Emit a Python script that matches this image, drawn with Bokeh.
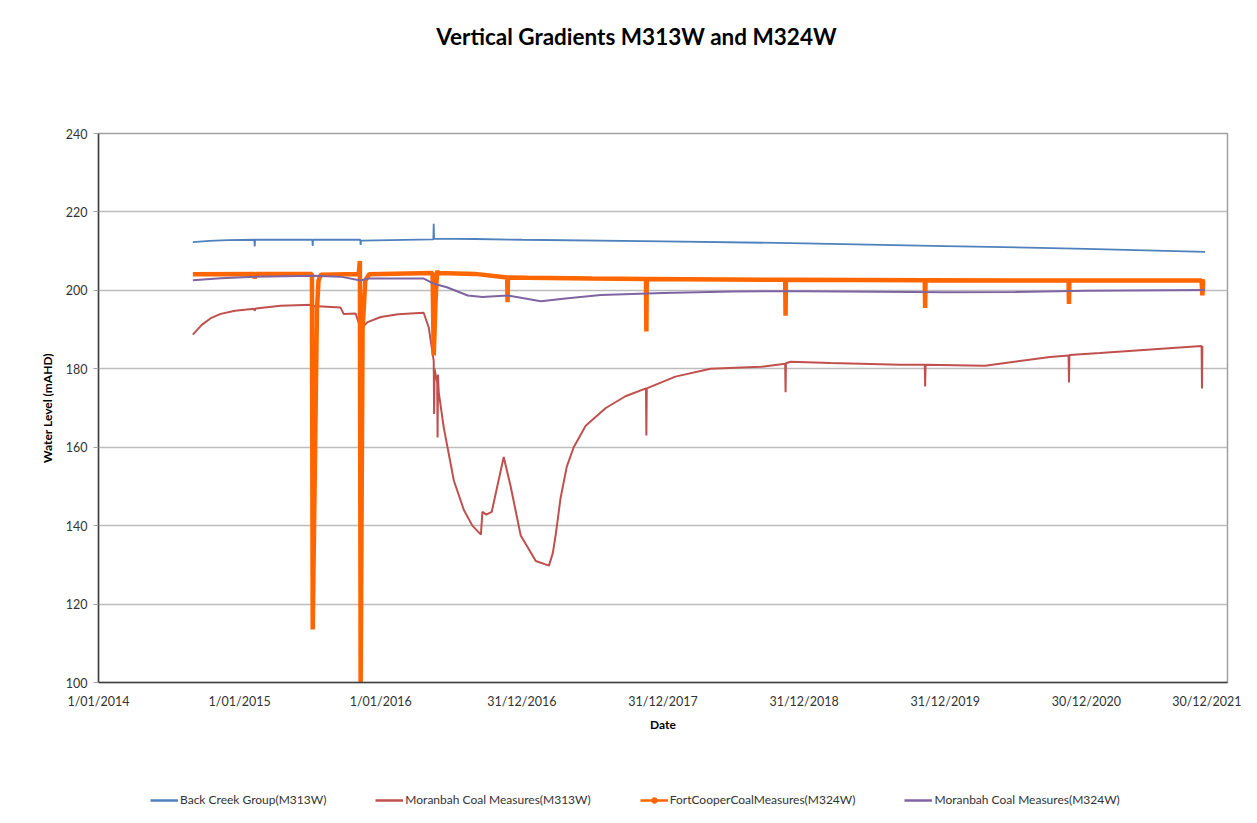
import pandas as pd
from bokeh.plotting import figure
from bokeh.layouts import column
from bokeh.models import FixedTicker, Range1d, Legend, LegendItem, ColumnDataSource, Label
from bokeh.embed import file_html
from bokeh.resources import INLINE

# ---------------- data ----------------
title_text = "Vertical Gradients M313W and M324W"
tick_dates = ["2014-01-01", "2015-01-01", "2016-01-01", "2016-12-31", "2017-12-31",
              "2018-12-31", "2019-12-31", "2020-12-30", "2021-12-30"]
tick_labels = ["1/01/2014", "1/01/2015", "1/01/2016", "31/12/2016", "31/12/2017",
               "31/12/2018", "31/12/2019", "30/12/2020", "30/12/2021"]
y_ticks = [100, 120, 140, 160, 180, 200, 220, 240]

# Back Creek Group (M313W)
bcg_dates = ["2014-09-02", "2014-10-15", "2014-12-01", "2015-02-08", "2015-02-09", "2015-02-10",
             "2015-07-08", "2015-07-09", "2015-07-10", "2015-11-09", "2015-11-10", "2015-11-11",
             "2016-05-16", "2016-05-17", "2016-05-18", "2016-09-01", "2017-01-01", "2017-12-31",
             "2018-12-31", "2019-12-31", "2020-12-30", "2021-11-02"]
bcg_level = [212.3, 212.6, 212.8, 212.9, 211.2, 212.9,
             212.9, 211.3, 212.9, 212.9, 211.6, 212.7,
             213.0, 217.0, 213.2, 213.1, 212.9, 212.5,
             212.0, 211.3, 210.6, 209.8]

# Moranbah Coal Measures (M313W)
mcm313_dates = ["2014-09-02", "2014-09-25", "2014-10-20", "2014-11-13", "2014-12-20", "2015-02-08",
                "2015-02-09", "2015-02-12", "2015-04-17", "2015-07-08", "2015-07-09", "2015-07-11",
                "2015-09-19", "2015-09-27", "2015-10-28", "2015-11-10", "2015-11-28", "2016-01-01",
                "2016-02-15", "2016-04-21", "2016-05-04", "2016-05-17", "2016-05-18", "2016-05-19",
                "2016-05-26", "2016-05-27", "2016-05-28", "2016-05-30", "2016-06-12", "2016-07-08",
                "2016-08-03", "2016-08-25", "2016-09-16", "2016-09-20", "2016-09-30", "2016-10-14",
                "2016-11-14", "2016-12-02", "2016-12-28", "2017-02-05", "2017-03-11", "2017-03-21",
                "2017-03-29", "2017-04-10", "2017-04-26", "2017-05-14", "2017-06-14", "2017-08-05",
                "2017-09-25", "2017-11-17", "2017-11-18", "2017-11-19", "2018-02-01", "2018-05-03",
                "2018-09-10", "2018-11-12", "2018-11-13", "2018-11-14", "2018-11-26", "2019-03-09",
                "2019-09-06", "2019-11-08", "2019-11-09", "2019-11-10", "2020-04-12", "2020-09-27",
                "2020-11-14", "2020-11-15", "2020-11-16", "2021-02-03", "2021-10-24", "2021-10-25",
                "2021-10-26"]
mcm313_level = [188.7, 191.2, 193.0, 194.0, 194.8, 195.3,
                194.8, 195.4, 196.1, 196.3, 189.0, 196.0,
                195.6, 194.0, 194.1, 190.2, 191.9, 193.2,
                193.9, 194.3, 190.6, 182.0, 168.5, 180.0,
                176.5, 162.5, 178.5, 174.0, 165.0, 151.5,
                144.0, 140.0, 137.7, 143.5, 142.8, 143.5,
                157.5, 150.0, 137.5, 131.0, 129.8, 133.0,
                138.0, 147.0, 155.0, 160.0, 165.5, 170.0,
                173.0, 175.0, 163.0, 175.0, 178.0, 180.0,
                180.5, 181.3, 174.0, 181.4, 181.8, 181.5,
                181.0, 181.0, 175.5, 181.0, 180.8, 183.0,
                183.4, 176.5, 183.5, 184.0, 185.8, 175.0,
                185.8]

# FortCooperCoalMeasures (M324W)
fccm_dates = ["2014-09-02", "2015-02-08", "2015-02-09", "2015-02-11", "2015-07-07", "2015-07-09",
              "2015-07-20", "2015-07-24", "2015-07-30", "2015-11-05", "2015-11-08", "2015-11-10",
              "2015-11-15", "2015-11-22", "2015-12-02", "2016-05-14", "2016-05-17", "2016-05-22",
              "2016-05-26", "2016-05-28", "2016-09-01", "2016-11-23", "2016-11-24", "2016-11-25",
              "2017-01-15", "2017-06-30", "2017-11-17", "2017-11-18", "2017-11-19", "2018-11-12",
              "2018-11-13", "2018-11-14", "2019-11-08", "2019-11-09", "2019-11-10", "2020-11-14",
              "2020-11-15", "2020-11-16", "2021-10-24", "2021-10-26", "2021-10-28", "2021-11-02"]
fccm_level = [204.1, 204.2, 203.0, 204.2, 204.2, 113.5,
              195.0, 202.5, 204.0, 204.2, 207.5, 99.0,
              190.0, 202.5, 204.1, 204.4, 183.4, 198.0,
              205.0, 204.4, 204.2, 203.3, 197.0, 203.3,
              203.2, 203.0, 202.9, 189.5, 202.9, 202.7,
              193.5, 202.7, 202.6, 195.5, 202.6, 202.5,
              196.5, 202.5, 202.5, 198.7, 202.3, 202.4]

# Moranbah Coal Measures (M324W)
mcm324_dates = ["2014-09-02", "2014-11-13", "2015-02-09", "2015-07-09", "2015-09-19", "2015-11-10",
                "2015-12-01", "2016-04-21", "2016-05-17", "2016-06-20", "2016-08-13", "2016-09-20",
                "2016-11-24", "2017-02-18", "2017-04-29", "2017-07-23", "2017-12-31", "2018-06-30",
                "2018-12-31", "2019-12-31", "2020-06-30", "2020-12-30", "2021-11-02"]
mcm324_level = [202.6, 203.1, 203.5, 203.7, 203.5, 202.5,
                203.0, 203.0, 201.7, 200.8, 198.7, 198.3,
                198.7, 197.2, 198.0, 198.8, 199.3, 199.7,
                199.8, 199.5, 199.6, 199.9, 200.1]

legend_labels = ["Back Creek Group(M313W)", "Moranbah Coal Measures(M313W)",
                 "FortCooperCoalMeasures(M324W)", "Moranbah Coal Measures(M324W)"]

FONT = "Lato"
BLUE, RED, ORANGE, PURPLE = "#4f81bd", "#c0504d", "#ff6600", "#8064a2"
W = 1241

def to_ms(s):
    return pd.Timestamp(s).value / 1e6

def src(dates, vals):
    return ColumnDataSource(dict(x=pd.to_datetime(dates), y=vals))

s_bcg = src(bcg_dates, bcg_level)
s_m313 = src(mcm313_dates, mcm313_level)
s_fccm = src(fccm_dates, fccm_level)
s_m324 = src(mcm324_dates, mcm324_level)

# ---------------- title strip ----------------
pt = figure(width=W, height=60, output_backend="svg", toolbar_location=None,
            x_axis_location=None, y_axis_location=None, min_border=0,
            x_range=Range1d(0, 1), y_range=Range1d(0, 1))
pt.outline_line_color = None
pt.grid.grid_line_color = None
pt.add_layout(Label(x=0.4765, y=0.4, text=title_text, text_font=FONT, text_font_size="22.5px",
                    text_font_style="bold", text_color="#000000", text_align="center",
                    text_baseline="middle"))

# ---------------- main chart ----------------
p = figure(width=W, height=710, x_axis_type="datetime", output_backend="svg",
           toolbar_location=None, min_border_left=98, min_border_right=14,
           min_border_top=73, min_border_bottom=88,
           x_range=Range1d(to_ms(tick_dates[0]), to_ms(tick_dates[-1])),
           y_range=Range1d(100, 240))

xt = [to_ms(d) for d in tick_dates]
p.xaxis.ticker = FixedTicker(ticks=xt)
p.xaxis.major_label_overrides = {t: l for t, l in zip(xt, tick_labels)}
p.yaxis.ticker = FixedTicker(ticks=y_ticks)
p.xaxis.axis_label = "Date"
p.yaxis.axis_label = "Water Level (mAHD)"
for ax in (p.xaxis, p.yaxis):
    ax.axis_label_text_font = FONT
    ax.axis_label_text_font_style = "bold"
    ax.axis_label_text_font_size = "12px"
    ax.axis_label_text_color = "#000000"
    ax.major_label_text_font = FONT
    ax.major_label_text_font_size = "12.5px"
    ax.major_label_text_color = "#333333"
    ax.axis_line_color = "#404040"
    ax.axis_line_width = 1.5
    ax.minor_tick_line_color = None
p.xaxis.major_tick_line_color = None
p.xaxis.major_tick_out = 0
p.xaxis.major_tick_in = 0
p.xaxis.major_label_standoff = 11
p.xaxis.axis_label_standoff = 5
p.yaxis.major_tick_line_color = "#a0a0a0"
p.yaxis.major_tick_out = 5
p.yaxis.major_tick_in = 0
p.yaxis.major_label_standoff = 6
p.yaxis.axis_label_standoff = 8

p.xgrid.grid_line_color = None
p.ygrid.grid_line_color = "#bdbdbd"
p.ygrid.grid_line_width = 1.5
p.outline_line_color = "#a0a0a0"
p.outline_line_width = 1.5

p.line("x", "y", source=s_bcg, line_color=BLUE, line_width=1.8)
p.line("x", "y", source=s_m313, line_color=RED, line_width=2)
p.line("x", "y", source=s_fccm, line_color=ORANGE, line_width=4.5)
p.line("x", "y", source=s_m324, line_color=PURPLE, line_width=2)

# ---------------- legend strip ----------------
# the same series are drawn here outside the visible range; only their legend keys show
pl = figure(width=W, height=37, output_backend="svg", toolbar_location=None,
            x_axis_location=None, y_axis_location=None, min_border=0,
            x_range=Range1d(0, 1), y_range=Range1d(0, 1))
pl.outline_line_color = None
pl.grid.grid_line_color = None
lr_bcg = pl.line("x", "y", source=s_bcg, line_color=BLUE, line_width=2.5)
lr_m313 = pl.line("x", "y", source=s_m313, line_color=RED, line_width=2.5)
lr_fccm = pl.line("x", "y", source=s_fccm, line_color=ORANGE, line_width=2.5)
lr_fmark = pl.scatter("x", "y", source=s_fccm, marker="circle", size=4, color=ORANGE)
lr_m324 = pl.line("x", "y", source=s_m324, line_color=PURPLE, line_width=2.5)
rends = [[lr_bcg], [lr_m313], [lr_fccm, lr_fmark], [lr_m324]]
items = [LegendItem(label=lab, renderers=rr) for lab, rr in zip(legend_labels, rends)]
lg = Legend(items=items, location=(52, 0), orientation="horizontal",
            background_fill_alpha=0, border_line_color=None,
            label_text_font=FONT, label_text_font_size="12px", label_text_color="#333333",
            glyph_width=28, glyph_height=14, label_height=14, label_standoff=2,
            padding=0, margin=0, spacing=49)
pl.add_layout(lg)

layout = column(pt, p, pl, spacing=0)
open("out.html", "w").write(file_html(layout, INLINE))
